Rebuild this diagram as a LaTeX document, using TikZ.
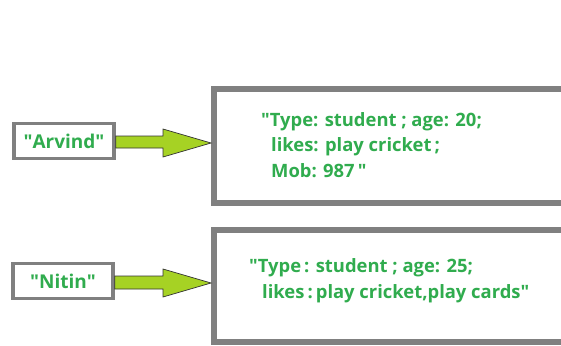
\documentclass[tikz,border=0pt]{standalone}
\usepackage{fontspec}
\setmainfont{Open Sans}
\definecolor{framegray}{RGB}{128,128,128}
\definecolor{txtgreen}{RGB}{48,172,78}
\definecolor{arrowlime}{RGB}{166,210,36}
\newcommand{\dq}{\textquotedbl}
\begin{document}
\begin{tikzpicture}[x=1pt,y=-1pt,
  namebox/.style={draw=framegray,line width=3.5pt,fill=white,inner sep=0pt,
    minimum width=100pt,minimum height=35pt,font=\fontsize{19}{19}\selectfont\bfseries,
    text=txtgreen},
  recbox/.style={draw=framegray,line width=5.5pt,fill=white,inner sep=0pt,anchor=north west},
  rectext/.style={anchor=base west,inner sep=0pt,font=\fontsize{18.4}{18.4}\selectfont\bfseries,
    text=txtgreen},
  bigarrow/.style={fill=arrowlime,draw=black!80,line width=0.7pt,line join=miter}]
\clip (0,0) rectangle (561,345);
\fill[white] (0,0) rectangle (561,345);

% record frames (they run off the right edge)
\draw[recbox] (214,89) rectangle (600,203);
\coordinate (r1) at (211,143);
\draw[recbox] (214,230) rectangle (600,342);
\coordinate (r2) at (211,283);

% key boxes
\node[namebox] (arvind) at (64,141) {\dq Arvind\dq};
\node[namebox] (nitin) at (63,281) {\dq Nitin\dq};

% block arrows from keys to records
\draw[bigarrow] (arvind.east |- 0,136) -- (163,136) -- (163,129) -- (r1)
  -- (163,157) -- (163,148) -- (arvind.east |- 0,148) -- cycle;
\draw[bigarrow] (nitin.east |- 0,276) -- (163,276) -- (163,269) -- (r2)
  -- (163,297) -- (163,289) -- (nitin.east |- 0,289) -- cycle;

% record contents
\node[rectext] (t1a) at (261,126) {\dq Type: student ; age: 20;};
\node[rectext] (t1b) at (271,151) {likes: play cricket\,;};
\node[rectext] (t1c) at (271,177) {Mob: 987\,\dq};
\node[rectext] (t2a) at (249,272) {\dq Type\,: student ; age: 25;};
\node[rectext] (t2b) at (262,298) {likes\,:\,play cricket,play cards\dq};
\end{tikzpicture}
\end{document}
